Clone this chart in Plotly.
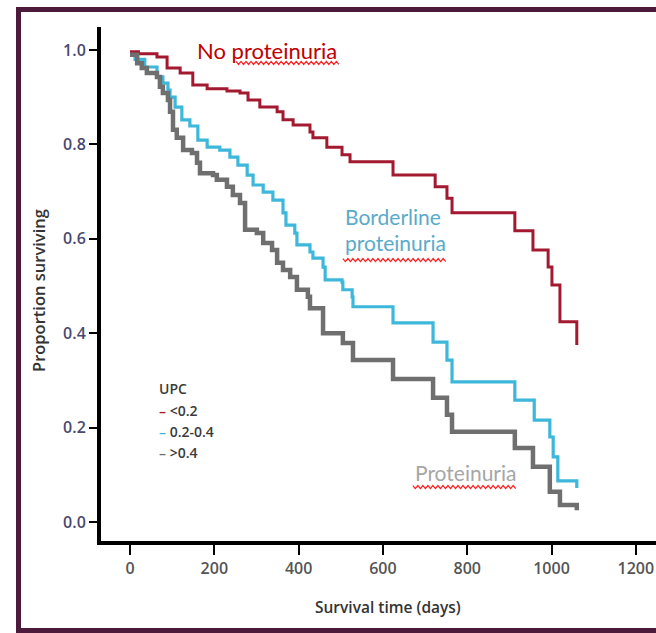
import plotly.graph_objects as go

# ---- data ----
groups = ["<0.2", "0.2-0.4", ">0.4"]

days_lt02 = [0, 20, 64, 88, 119, 149, 183, 230, 261, 280, 308, 349, 363, 387, 427, 434, 467,
             503, 522, 624, 724, 752, 764, 913, 956, 992, 1001, 1020, 1060]
surv_lt02 = [0.996, 0.992, 0.985, 0.962, 0.951, 0.926, 0.918, 0.913, 0.909, 0.894, 0.879, 0.869,
             0.852, 0.841, 0.826, 0.814, 0.794, 0.778, 0.763, 0.735, 0.710, 0.686, 0.655, 0.617,
             0.576, 0.540, 0.502, 0.424, 0.375]

days_02_04 = [0, 12, 35, 64, 78, 90, 95, 107, 123, 142, 161, 183, 213, 237, 256, 278, 292, 316,
              339, 363, 370, 391, 396, 427, 434, 458, 463, 503, 505, 527, 529, 624, 719, 752,
              764, 913, 959, 996, 1004, 1015, 1060]
surv_02_04 = [0.99, 0.98, 0.964, 0.943, 0.930, 0.915, 0.900, 0.879, 0.852, 0.839, 0.809, 0.794,
              0.788, 0.773, 0.756, 0.735, 0.714, 0.699, 0.682, 0.655, 0.629, 0.612, 0.587, 0.572,
              0.559, 0.540, 0.513, 0.508, 0.492, 0.477, 0.456, 0.422, 0.381, 0.343, 0.297, 0.258,
              0.216, 0.180, 0.138, 0.087, 0.072]

days_gt04 = [0, 17, 28, 40, 64, 71, 78, 90, 95, 102, 111, 126, 147, 159, 166, 197, 206, 230,
             244, 261, 273, 301, 316, 337, 349, 363, 380, 396, 422, 427, 458, 505, 529, 624,
             719, 752, 764, 913, 956, 996, 1020, 1060]
surv_gt04 = [0.99, 0.972, 0.962, 0.951, 0.943, 0.922, 0.909, 0.894, 0.869, 0.831, 0.814, 0.788,
             0.782, 0.761, 0.739, 0.735, 0.725, 0.710, 0.693, 0.676, 0.619, 0.612, 0.591, 0.576,
             0.549, 0.534, 0.519, 0.492, 0.477, 0.453, 0.400, 0.379, 0.343, 0.303, 0.263, 0.227,
             0.191, 0.157, 0.117, 0.064, 0.036, 0.025]

x_ticks = [0, 200, 400, 600, 800, 1000, 1200]
y_ticks = [0.0, 0.2, 0.4, 0.6, 0.8, 1.0]
y_tick_text = ["0.0", "0.2", "0.4", "0.6", "0.8", "1.0"]

series = [
    (groups[0], days_lt02, surv_lt02, "#a31a30", 3),
    (groups[1], days_02_04, surv_02_04, "#3db7da", 3.2),
    (groups[2], days_gt04, surv_gt04, "#6f6f6f", 4.5),
]

fig = go.Figure()
for name, d, s, col, w in series:
    fig.add_trace(go.Scatter(x=d, y=s, mode="lines", name=name,
                             line=dict(color=col, width=w, shape="hv"),
                             showlegend=False))

SANS = "Open Sans"
LBL = "Lato"

fig.update_layout(
    width=656, height=633,
    margin=dict(l=101, r=0, t=27, b=92, pad=0),
    paper_bgcolor="white", plot_bgcolor="white",
    xaxis=dict(range=[-68.8, 1247.9], tickvals=x_ticks, showgrid=False, zeroline=False,
               showline=True, linecolor="black", linewidth=4,
               ticks="outside", ticklen=10, tickwidth=2, tickcolor="black",
               tickfont=dict(family=SANS, size=16, color="#555555", weight=600)),
    yaxis=dict(range=[-0.0403, 1.0487], tickvals=y_ticks, ticktext=y_tick_text,
               showgrid=False, zeroline=False,
               showline=True, linecolor="black", linewidth=4,
               ticks="outside", ticklen=8, tickwidth=2, tickcolor="black",
               tickfont=dict(family=SANS, size=16, color="#4a4a70", weight=600)),
)

def wavy(x0, x1, y, amp, period):
    pts = []
    n = int((x1 - x0) / (period / 2))
    for i in range(n + 1):
        xx = x0 + i * period / 2
        yy = y + (amp if i % 2 == 0 else -amp)
        pts.append(f"{xx:.2f},{yy:.4f}")
    return "M " + " L ".join(pts)

annots = [
    dict(text="No proteinuria", x=326, y=0.998, xanchor="center", yanchor="middle",
         font=dict(family=LBL, size=22, color="#c00000")),
    dict(text="Borderline", x=505, y=0.648, xanchor="left", yanchor="middle",
         font=dict(family=LBL, size=21, color="#5aaacb")),
    dict(text="proteinuria", x=505, y=0.592, xanchor="left", yanchor="middle",
         font=dict(family=LBL, size=21, color="#5aaacb")),
    dict(text="Proteinuria", x=671, y=0.104, xanchor="left", yanchor="middle",
         font=dict(family=LBL, size=21, color="#a6a6a6")),
]
for a in annots:
    fig.add_annotation(xref="x", yref="y", showarrow=False, **a)

for x0, x1, yy in [(251.5, 495.8, 0.9725), (505, 754, 0.555), (671, 920.5, 0.074)]:
    fig.add_shape(type="path", xref="x", yref="y", path=wavy(x0, x1, yy, 0.0032, 11.9),
                  line=dict(color="#ff2020", width=1.2))

# legend as text
leg_font = dict(family=SANS, size=14, color="#3a3a3a", weight=600)
fig.add_annotation(xref="paper", yref="paper", x=(157 - 101) / 555, y=(541 - 388) / 514,
                   xanchor="left", yanchor="middle", showarrow=False, text="UPC", font=leg_font)
for i, (name, d, s, col, w) in enumerate(series):
    py = [410, 431, 453][i]
    fig.add_annotation(xref="paper", yref="paper", x=(157 - 101) / 555, y=(541 - py) / 514,
                       xanchor="left", yanchor="middle", showarrow=False,
                       text=f"<span style='color:{col}'>–</span> " + name.replace("<", "&lt;").replace(">", "&gt;"),
                       font=leg_font)

# axis titles
fig.add_annotation(xref="paper", yref="paper", x=(38 - 101) / 555, y=(541 - 291) / 514,
                   xanchor="center", yanchor="middle", showarrow=False, textangle=-90,
                   text="Proportion surviving",
                   font=dict(family=SANS, size=16.5, color="#333333", weight=600))
fig.add_annotation(xref="paper", yref="paper", x=(388 - 101) / 555, y=(541 - 607) / 514,
                   xanchor="center", yanchor="middle", showarrow=False,
                   text="Survival time (days)",
                   font=dict(family=SANS, size=15.5, color="#333333", weight=600))

# frame (left, top, bottom; the right side lies beyond the picture)
fig.add_shape(type="rect", xref="paper", yref="paper",
              x0=(18.5 - 101) / 555, x1=1.5,
              y0=(541 - 630.5) / 514, y1=(541 - 9.5) / 514,
              line=dict(color="#4e1a3c", width=5), layer="above")

fig.write_html("out.html", config={"displayModeBar": False},
               post_script="document.body.style.margin='0';document.body.style.overflow='hidden';")
